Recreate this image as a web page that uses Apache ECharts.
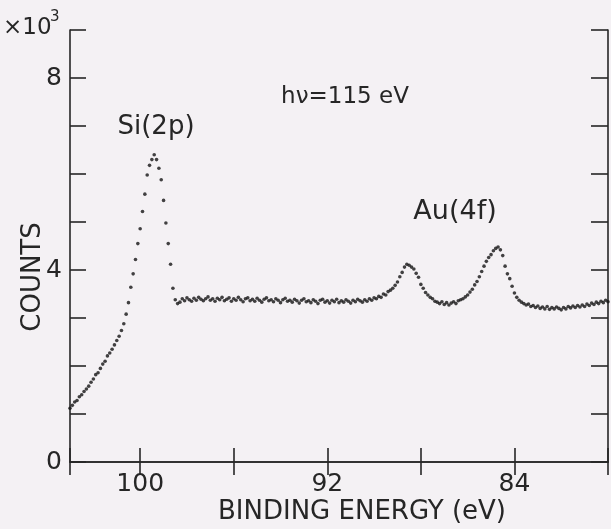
<!DOCTYPE html>
<html>
<head>
<meta charset="utf-8">
<script src="https://cdn.jsdelivr.net/npm/echarts@6/dist/echarts.min.js"></script>
<style>
html,body{margin:0;padding:0;background:#f4f1f4;}
#chart{width:611px;height:529px;}
</style>
</head>
<body>
<div id="chart"></div>
<script>
// Binding energy (eV)
const energy = [
103.0,102.9,102.8,102.7,102.6,102.5,102.4,102.3,102.2,102.1,
102.0,101.9,101.8,101.7,101.6,101.5,101.4,101.3,101.2,101.1,
101.0,100.9,100.8,100.7,100.6,100.5,100.4,100.3,100.2,100.1,
100.0,99.9,99.8,99.7,99.6,99.5,99.4,99.3,99.2,99.1,
99.0,98.9,98.8,98.7,98.6,98.5,98.4,98.3,98.2,98.1,
98.0,97.9,97.8,97.7,97.6,97.5,97.4,97.3,97.2,97.1,
97.0,96.9,96.8,96.7,96.6,96.5,96.4,96.3,96.2,96.1,
96.0,95.9,95.8,95.7,95.6,95.5,95.4,95.3,95.2,95.1,
95.0,94.9,94.8,94.7,94.6,94.5,94.4,94.3,94.2,94.1,
94.0,93.9,93.8,93.7,93.6,93.5,93.4,93.3,93.2,93.1,
93.0,92.9,92.8,92.7,92.6,92.5,92.4,92.3,92.2,92.1,
92.0,91.9,91.8,91.7,91.6,91.5,91.4,91.3,91.2,91.1,
91.0,90.9,90.8,90.7,90.6,90.5,90.4,90.3,90.2,90.1,
90.0,89.9,89.8,89.7,89.6,89.5,89.4,89.3,89.2,89.1,
89.0,88.9,88.8,88.7,88.6,88.5,88.4,88.3,88.2,88.1,
88.0,87.9,87.8,87.7,87.6,87.5,87.4,87.3,87.2,87.1,
87.0,86.9,86.8,86.7,86.6,86.5,86.4,86.3,86.2,86.1,
86.0,85.9,85.8,85.7,85.6,85.5,85.4,85.3,85.2,85.1,
85.0,84.9,84.8,84.7,84.6,84.5,84.4,84.3,84.2,84.1,
84.0,83.9,83.8,83.7,83.6,83.5,83.4,83.3,83.2,83.1,
83.0,82.9,82.8,82.7,82.6,82.5,82.4,82.3,82.2,82.1,
82.0,81.9,81.8,81.7,81.6,81.5,81.4,81.3,81.2,81.1,
81.0,80.9,80.8,80.7,80.6,80.5,80.4,80.3,80.2,80.1,
80.0
];
// Counts (x10^3)
const counts = [
1.12,1.18,1.25,1.28,1.36,1.40,1.47,1.52,1.58,1.66,
1.73,1.82,1.86,1.95,2.04,2.10,2.21,2.27,2.35,2.44,
2.53,2.62,2.74,2.88,3.08,3.32,3.64,3.92,4.22,4.55,
4.86,5.22,5.58,5.98,6.18,6.30,6.40,6.30,6.12,5.88,
5.45,4.98,4.55,4.12,3.62,3.38,3.30,3.33,3.40,3.36,
3.42,3.38,3.35,3.41,3.37,3.43,3.39,3.36,3.40,3.44,
3.37,3.40,3.35,3.41,3.38,3.43,3.36,3.39,3.42,3.35,
3.40,3.37,3.43,3.38,3.34,3.40,3.42,3.36,3.39,3.35,
3.41,3.37,3.33,3.39,3.42,3.36,3.38,3.34,3.40,3.37,
3.32,3.38,3.41,3.35,3.37,3.33,3.39,3.36,3.31,3.37,
3.40,3.34,3.36,3.32,3.38,3.35,3.30,3.37,3.39,3.33,
3.36,3.31,3.37,3.34,3.39,3.32,3.36,3.33,3.38,3.35,
3.31,3.37,3.34,3.39,3.36,3.33,3.38,3.35,3.40,3.37,
3.42,3.40,3.45,3.43,3.50,3.48,3.55,3.58,3.62,3.68,
3.75,3.86,3.95,4.06,4.12,4.10,4.06,4.02,3.93,3.85,
3.70,3.62,3.53,3.48,3.43,3.40,3.35,3.33,3.30,3.34,
3.28,3.32,3.27,3.31,3.34,3.30,3.36,3.38,3.40,3.44,
3.48,3.54,3.60,3.69,3.76,3.86,3.97,4.08,4.18,4.26,
4.32,4.40,4.45,4.48,4.42,4.30,4.08,3.92,3.82,3.66,
3.52,3.43,3.37,3.33,3.30,3.27,3.29,3.24,3.26,3.22,
3.25,3.20,3.23,3.19,3.24,3.18,3.22,3.19,3.23,3.20,
3.17,3.22,3.19,3.24,3.21,3.25,3.22,3.26,3.23,3.27,
3.24,3.29,3.26,3.31,3.28,3.33,3.30,3.35,3.32,3.37,
3.34
];
const xTickLabels = [100, 92, 84];
const yTickLabels = [0, 4, 8];
const xTitle = 'BINDING ENERGY (eV)';
const yTitle = 'COUNTS';
const peakLabels = ['Si(2p)', 'Au(4f)'];
const photonLabel = 'h\u03bd=115 eV';
const scaleLabel = ['\u00d710', '3'];

const FONT = '"DejaVu Sans", sans-serif';
const INK = '#262626';

const points = energy.map((e, i) => [e, counts[i]]);

const chart = echarts.init(document.getElementById('chart'), null, {renderer: 'canvas'});

const lineStyle = {color: INK, width: 1.6};
chart.setOption({
  backgroundColor: '#f4f1f4',
  animation: false,
  grid: {left: 70, right: 1, top: 30, bottom: 67},
  xAxis: [
    {
      type: 'value', inverse: true, min: 80, max: 103, interval: 4,
      position: 'bottom',
      axisLine: {show: true, lineStyle: lineStyle},
      axisTick: {show: true, inside: true, length: 14, lineStyle: lineStyle},
      splitLine: {show: false},
      axisLabel: {
        margin: 10, color: INK, fontFamily: FONT, fontSize: 25,
        formatter: v => xTickLabels.includes(v) ? String(v) : ''
      }
    },
    {
      type: 'value', inverse: true, min: 80, max: 103, interval: 4,
      position: 'top',
      axisLine: {show: true, lineStyle: lineStyle},
      axisTick: {show: true, inside: true, length: 13, lineStyle: lineStyle},
      splitLine: {show: false},
      axisLabel: {show: false}
    }
  ],
  yAxis: [
    {
      type: 'value', min: 0, max: 9, interval: 1,
      position: 'left',
      axisLine: {show: true, lineStyle: lineStyle},
      axisTick: {show: true, inside: true, length: 16, lineStyle: lineStyle},
      splitLine: {show: false},
      axisLabel: {
        margin: 8, color: INK, fontFamily: FONT, fontSize: 25,
        formatter: v => yTickLabels.includes(v) ? String(v) : ''
      }
    },
    {
      type: 'value', min: 0, max: 9, interval: 1,
      position: 'right',
      axisLine: {show: true, lineStyle: lineStyle},
      axisTick: {show: true, inside: true, length: 17, lineStyle: lineStyle},
      splitLine: {show: false},
      axisLabel: {show: false}
    }
  ],
  series: [{
    type: 'scatter',
    data: points,
    symbol: 'circle',
    symbolSize: 3.6,
    itemStyle: {color: '#141414'},
    silent: true
  }],
  graphic: [
    {type: 'text', x: 362, y: 512, style: {text: xTitle, font: '26px ' + FONT, fill: INK, textAlign: 'center', textVerticalAlign: 'middle'}},
    {type: 'text', x: 33, y: 277, rotation: Math.PI / 2, style: {text: yTitle, font: '26px ' + FONT, fill: INK, textAlign: 'center', textVerticalAlign: 'middle'}},
    {type: 'text', x: 156, y: 127, style: {text: peakLabels[0], font: '26px ' + FONT, fill: INK, textAlign: 'center', textVerticalAlign: 'middle'}},
    {type: 'text', x: 455, y: 212, style: {text: peakLabels[1], font: '27px ' + FONT, fill: INK, textAlign: 'center', textVerticalAlign: 'middle'}},
    {type: 'text', x: 345, y: 97, style: {text: photonLabel, font: '23px ' + FONT, fill: INK, textAlign: 'center', textVerticalAlign: 'middle'}},
    {type: 'text', x: 3, y: 40, style: {text: scaleLabel[0], font: '23px ' + FONT, fill: INK, textAlign: 'left', textVerticalAlign: 'bottom'}},
    {type: 'text', x: 50, y: 10, style: {text: scaleLabel[1], font: '15px ' + FONT, fill: INK, textAlign: 'left', textVerticalAlign: 'top'}}
  ]
});
</script>
</body>
</html>
